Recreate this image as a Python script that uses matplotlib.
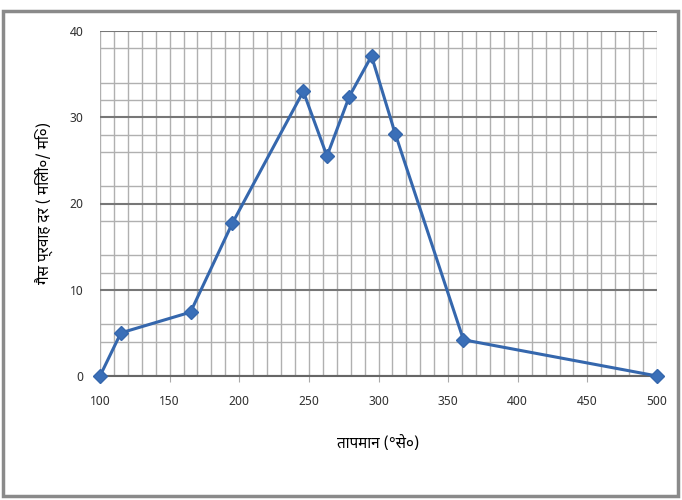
import matplotlib.pyplot as plt
from matplotlib.patches import Rectangle
import numpy as np

# temperature (deg C) vs gas flow rate
temp = [100, 115, 165, 195, 246, 263, 279, 295, 312, 361, 500]
rate = [0, 5.0, 7.4, 17.7, 33.0, 25.5, 32.4, 37.1, 28.1, 4.2, 0]

x_ticks = [100, 150, 200, 250, 300, 350, 400, 450, 500]
y_ticks = [0, 10, 20, 30, 40]
y_minor = [4, 6, 12, 14, 18, 22, 26, 28, 32, 34, 38]

plt.rcParams['font.family'] = ['Noto Sans Devanagari', 'Lohit Devanagari', 'FreeSans', 'DejaVu Sans']

fig = plt.figure(figsize=(6.82, 5.0), dpi=100)
ax = fig.add_axes([100 / 682, 1 - 376 / 500, 557 / 682, 345 / 500])

# graph-paper style grid
ax.set_xticks(np.arange(100, 501, 10), minor=True)
ax.set_yticks(y_minor, minor=True)
ax.grid(which='minor', color='#b0b0b0', lw=1.0)
ax.grid(which='major', axis='y', color='#777777', lw=1.5)
ax.grid(which='major', axis='x', color='#b0b0b0', lw=1.0)

ax.plot(temp, rate, color='#3567ad', lw=2.2, marker='D', ms=7,
        markerfacecolor='#3a6fb8', markeredgecolor='#3567ad', zorder=3, clip_on=False)

ax.set_xlim(100, 500)
ax.set_ylim(0, 40)
ax.set_xticks(x_ticks)
ax.set_yticks(y_ticks)
ax.tick_params(axis='both', which='major', labelsize=9, colors='#333333')
ax.tick_params(axis='y', length=0, pad=12)
ax.tick_params(axis='x', length=4, color='#aaaaaa', pad=10)
ax.tick_params(which='minor', length=0)
for s in ['top', 'right', 'left']:
    ax.spines[s].set_visible(False)
ax.spines['bottom'].set_color('#666666')
ax.spines['bottom'].set_linewidth(1.5)

ax.set_xlabel('तापमान (°से०)', fontsize=11, fontweight='bold', labelpad=20)
ax.set_ylabel('गैस प्रवाह दर ( मिली०/ मि०)', fontsize=11, fontweight='bold', labelpad=12)

fig.patches.append(Rectangle((0.004, 0.008), 0.99, 0.97, transform=fig.transFigure,
                             fill=False, edgecolor='#8a8a8a', lw=2.5))

fig.savefig('out.png', dpi=100)
